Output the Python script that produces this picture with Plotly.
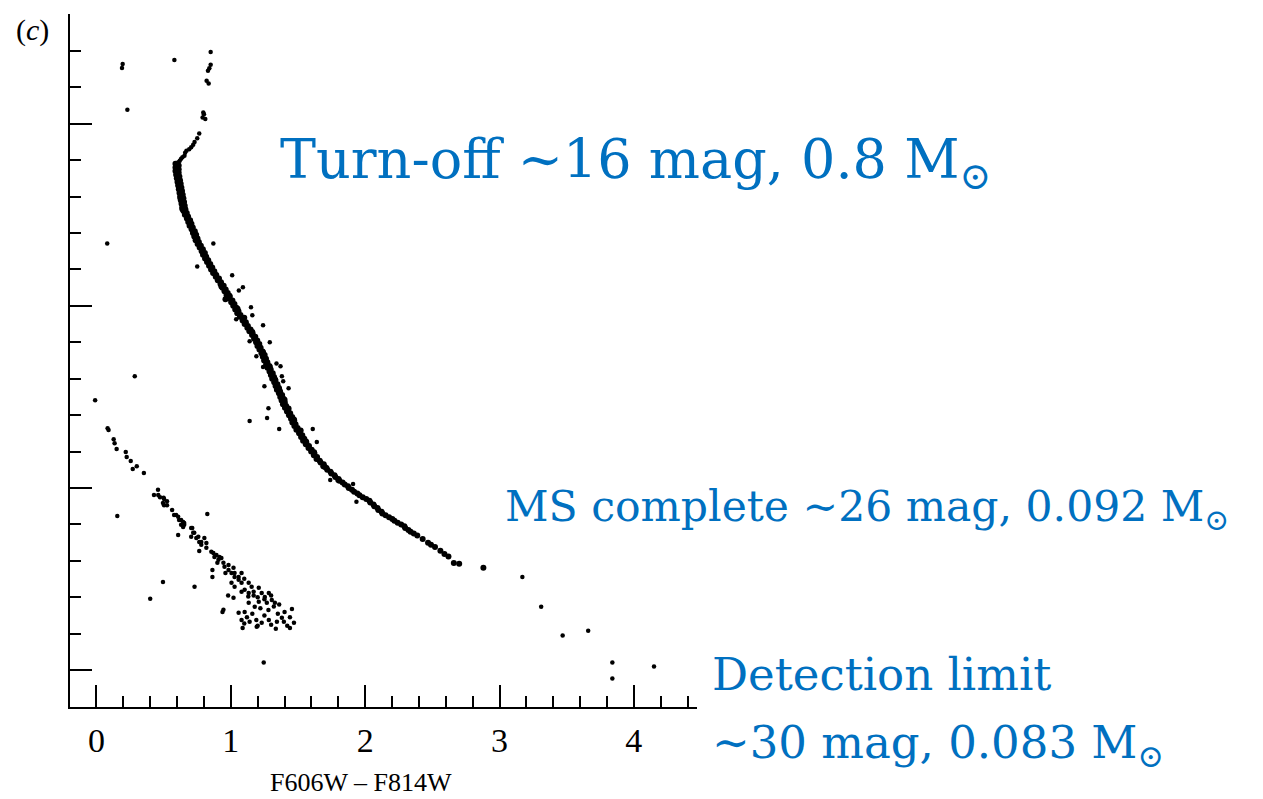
import plotly.graph_objects as go

# ---------------- data (F606W-F814W colour, F814W magnitude) ----------------
ms_core = [
    (0.588,16.10),(0.612,16.15),(0.588,16.20),(0.612,16.25),(0.588,16.30),(0.612,16.35),
    (0.593,16.40),(0.617,16.45),(0.598,16.50),(0.622,16.55),(0.603,16.60),(0.627,16.65),
    (0.608,16.70),(0.632,16.75),(0.613,16.80),(0.637,16.85),(0.618,16.90),(0.642,16.95),
    (0.623,17.00),(0.647,17.05),(0.628,17.10),(0.652,17.15),(0.633,17.20),(0.657,17.25),
    (0.638,17.30),(0.662,17.35),(0.648,17.40),(0.672,17.45),(0.658,17.50),(0.682,17.55),
    (0.673,17.60),(0.697,17.65),(0.683,17.70),(0.707,17.75),(0.693,17.80),(0.717,17.85),
    (0.708,17.90),(0.732,17.95),(0.718,18.00),(0.742,18.05),(0.728,18.10),(0.752,18.15),
    (0.738,18.20),(0.762,18.25),(0.753,18.30),(0.777,18.35),(0.768,18.40),(0.792,18.45),
    (0.783,18.50),(0.807,18.55),(0.793,18.60),(0.817,18.65),(0.808,18.70),(0.832,18.75),
    (0.823,18.80),(0.847,18.85),(0.838,18.90),(0.862,18.95),(0.853,19.00),(0.877,19.05),
    (0.868,19.10),(0.892,19.15),(0.888,19.20),(0.912,19.25),(0.903,19.30),(0.927,19.35),
    (0.923,19.40),(0.947,19.45),(0.938,19.50),(0.962,19.55),(0.953,19.60),(0.977,19.65),
    (0.968,19.70),(0.992,19.75),(0.988,19.80),(1.012,19.85),(1.003,19.90),(1.027,19.95),
    (1.018,20.00),(1.042,20.05),(1.033,20.10),(1.057,20.15),(1.048,20.20),(1.072,20.25),
    (1.068,20.30),(1.092,20.35),(1.088,20.40),(1.112,20.45),(1.103,20.50),(1.127,20.55),
    (1.123,20.60),(1.147,20.65),(1.138,20.70),(1.162,20.75),(1.158,20.80),(1.182,20.85),
    (1.173,20.90),(1.197,20.95),(1.188,21.00),(1.212,21.05),(1.198,21.10),(1.222,21.15),
    (1.213,21.20),(1.237,21.25),(1.228,21.30),(1.252,21.35),(1.238,21.40),(1.262,21.45),
    (1.248,21.50),(1.272,21.55),(1.263,21.60),(1.287,21.65),(1.273,21.70),(1.297,21.75),
    (1.288,21.80),(1.312,21.85),(1.298,21.90),(1.322,21.95),(1.308,22.00),(1.332,22.05),
    (1.323,22.10),(1.347,22.15),(1.333,22.20),(1.357,22.25),(1.343,22.30),(1.367,22.35),
    (1.358,22.40),(1.382,22.45),(1.368,22.50),(1.392,22.55),(1.378,22.60),(1.402,22.65),
    (1.388,22.70),(1.412,22.75),(1.403,22.80),(1.427,22.85),(1.418,22.90),(1.442,22.95),
    (1.433,23.00),(1.457,23.05),(1.448,23.10),(1.472,23.15),(1.458,23.20),(1.482,23.25),
    (1.473,23.30),(1.497,23.35),(1.488,23.40),(1.512,23.45),(1.508,23.50),(1.532,23.55),
    (1.523,23.60),(1.547,23.65),(1.538,23.70),(1.562,23.75),(1.558,23.80),(1.582,23.85),
    (1.578,23.90),(1.602,23.95),(1.598,24.00),(1.622,24.05),(1.618,24.10),(1.642,24.15),
    (1.638,24.20),(1.662,24.25),(1.668,24.30),(1.692,24.35),(1.688,24.40),(1.712,24.45),
    (1.718,24.50),(1.742,24.55),(1.748,24.60),(1.772,24.65),(1.778,24.70),(1.802,24.75),
    (1.808,24.80),(1.832,24.85),(1.848,24.90),(1.872,24.95),(1.878,25.00),(1.902,25.05),
    (1.918,25.10),(1.942,25.15),(1.958,25.20),(1.982,25.25),(2.008,25.30),(2.032,25.35),
    (2.038,25.40),(2.062,25.45),(2.068,25.50),(2.092,25.55),(2.098,25.60),(2.122,25.65),
    (2.128,25.70),(2.152,25.75),(2.178,25.80),(2.202,25.85),(2.218,25.90),(2.242,25.95),
    (2.268,26.00),(2.292,26.05),(2.298,26.10),(2.322,26.15),(2.338,26.20),(2.362,26.25),
    (2.388,26.30),(2.428,26.40),(2.468,26.50),(2.49,26.56),(2.52,26.62),(2.56,26.72),
    (2.59,26.81),(2.62,26.88),(2.66,27.06),(2.70,27.08),(2.88,27.19),
    # extra stars where the sequence is thickest
    (0.600,16.45),(0.615,16.75),(0.625,17.05),(0.640,17.35),(0.700,17.78),(0.760,18.28),
    (0.820,18.72),(0.880,19.12),(0.930,19.47),(0.960,19.82),(0.990,19.72),(1.050,20.08),
    (1.100,20.33),(1.160,20.72),(1.210,21.07),(1.240,21.28),(1.290,21.67),(1.330,22.02),
    (1.360,22.28),(1.400,22.58),(1.430,22.82),(1.470,23.12),(1.520,23.42),(1.560,23.72),
    (1.620,24.02),(1.700,24.42),(1.800,24.78),
]

subgiant = [
    (0.85,13.03),(0.85,13.38),(0.84,13.48),(0.83,13.55),(0.82,13.82),(0.835,13.90),
    (0.795,14.69),(0.80,14.74),(0.79,14.83),(0.81,14.87),(0.765,15.27),(0.75,15.40),
    (0.73,15.50),(0.72,15.58),(0.705,15.65),(0.69,15.70),(0.67,15.74),(0.66,15.80),
    (0.655,15.88),(0.64,15.92),(0.63,15.96),(0.62,16.02),(0.61,16.06),(0.60,16.08),
]

ms_scatter = [
    (0.87,18.29),(0.75,18.92),(1.01,19.16),(1.09,19.49),(1.06,19.58),(1.15,20.04),
    (1.16,20.26),(1.04,20.37),(1.24,20.53),(1.29,21.00),(1.14,20.97),(1.19,21.38),
    (1.34,21.58),(1.37,21.66),(1.24,21.68),(1.38,21.93),(1.39,22.07),(1.43,22.26),
    (1.25,22.21),(1.28,22.81),(1.27,23.08),(1.14,23.16),(1.36,23.38),(1.61,23.38),
    (1.64,23.74),(1.74,24.78),(1.91,24.89),(1.935,25.38),(3.17,27.44),(3.31,28.26),
    (3.47,29.05),(3.66,28.92),(3.84,29.79),(3.84,30.23),(4.15,29.90),
]

field = [
    (0.195,13.36),(0.19,13.47),(0.58,13.25),(0.23,14.62),(0.08,18.29),(0.285,21.93),
    (-0.01,22.59),(0.155,25.77),(1.245,29.79),(0.40,28.04),(0.495,27.58),(0.73,27.71),
    (0.825,25.71),
]

white_dwarfs = [
    (0.083,23.36),(0.09,23.41),(0.128,23.66),(0.135,23.77),(0.15,23.93),(0.218,24.01),
    (0.225,24.15),(0.255,24.26),(0.30,24.40),(0.27,24.48),(0.353,24.59),(0.458,25.05),
    (0.428,25.19),(0.46,25.19),(0.473,25.25),(0.50,25.27),(0.503,25.30),(0.525,25.36),
    (0.495,25.41),(0.503,25.47),(0.525,25.47),(0.563,25.60),(0.578,25.74),(0.593,25.74),
    (0.608,25.79),(0.615,25.88),(0.63,25.88),(0.645,25.93),(0.653,25.96),(0.653,26.01),
    (0.63,26.01),(0.645,26.07),(0.705,26.10),(0.713,26.10),(0.72,26.23),(0.728,26.23),
    (0.608,26.29),(0.705,26.34),(0.758,26.34),(0.743,26.37),(0.803,26.37),(0.78,26.48),
    (0.765,26.48),(0.818,26.51),(0.78,26.56),(0.818,26.64),(0.765,26.73),(0.855,26.75),
    (0.87,26.78),(0.893,26.84),(0.878,26.89),(0.915,26.89),(0.93,26.92),(0.908,26.97),
    (0.945,27.05),(0.90,27.05),(0.983,27.11),(0.953,27.16),(1.02,27.19),(0.983,27.25),
    (0.863,27.25),(1.028,27.33),(1.08,27.33),(0.96,27.33),(1.005,27.33),(1.058,27.44),
    (1.028,27.44),(0.863,27.44),(1.10,27.49),(1.058,27.52),(1.133,27.60),(1.08,27.60),
    (1.005,27.60),(1.155,27.71),(1.028,27.71),(1.208,27.74),(1.103,27.79),(1.17,27.85),
    (1.23,27.88),(1.283,27.88),(1.133,27.88),(1.253,27.99),(1.02,28.01),(1.305,28.07),
    (1.208,28.12),(1.328,28.15),(1.268,28.15),(1.133,28.15),(1.178,28.26),(1.455,28.32),
    (0.945,28.34),(1.103,28.40),(0.938,28.40),(1.058,28.42),(1.38,28.56),(1.08,28.62),
    (1.283,28.62),(1.14,28.67),(1.343,28.67),(1.395,28.67),(1.23,28.70),(1.47,28.70),
    (1.193,28.81),(1.44,28.84),(1.335,28.86),(1.088,28.84),
    (1.17,27.95),(1.20,28.00),(1.25,28.05),(1.30,27.95),(1.32,28.25),(1.28,28.35),
    (1.22,28.30),(1.16,28.45),(1.25,28.50),(1.35,28.45),(1.40,28.40),(1.12,28.55),
    (1.19,28.62),(1.30,28.75),(1.42,28.78),(1.36,28.20),(1.44,28.55),(1.20,28.78),
    (1.10,28.72),(0.98,27.95),(1.08,27.85),(1.13,27.98),
]

x_tick_values = [0, 1, 2, 3, 4]
x_tick_labels = ["0", "1", "2", "3", "4"]
x_title = "F606W – F814W"

# ---------------- figure ----------------
fig = go.Figure()
groups = [(ms_core, 6), (subgiant, 4.5), (ms_scatter, 4.5), (field, 4.5), (white_dwarfs, 4.5)]
for group, msize in groups:
    fig.add_trace(go.Scatter(
        x=[p[0] for p in group], y=[p[1] for p in group], mode="markers",
        marker=dict(color="black", size=msize, line=dict(width=0)),
        hoverinfo="skip", showlegend=False,
    ))

serif = "Liberation Serif"
blue = "#0070C0"
ann_font = "DejaVu Serif"

fig.update_layout(
    width=1263, height=799,
    margin=dict(l=70, r=566, t=14, b=92),
    paper_bgcolor="white", plot_bgcolor="white",
    showlegend=False,
    xaxis=dict(
        range=[-0.197, 4.47], showline=True, linecolor="black", linewidth=2,
        ticks="inside", ticklen=22, tickwidth=2, tickcolor="black",
        tickvals=x_tick_values, ticktext=x_tick_labels,
        showgrid=False, zeroline=False,
        tickfont=dict(family=serif, size=34, color="black"),
        ticklabelstandoff=2,
        minor=dict(ticks="inside", ticklen=11, tickwidth=2, tickcolor="black",
                   dtick=0.2, tick0=0, showgrid=False),
    ),
    yaxis=dict(
        range=[31.01, 11.99], showline=True, linecolor="black", linewidth=2,
        ticks="inside", ticklen=22, tickwidth=2, tickcolor="black",
        dtick=5, tick0=0, showticklabels=False,
        showgrid=False, zeroline=False,
        minor=dict(ticks="inside", ticklen=11, tickwidth=2, tickcolor="black",
                   dtick=1, tick0=0, showgrid=False),
    ),
)

def px_x(px):
    return (px - 70) / 627.0

def px_y(py):
    return (707 - py) / 693.0

annotations = [
    dict(text="(<i>c</i>)", x=px_x(32), y=px_y(30), font=dict(family=serif, size=30, color="black")),
    dict(text=x_title, x=px_x(361), y=px_y(783), font=dict(family=serif, size=26, color="black")),
    dict(text="Turn-off ∼16 mag, 0.8 M<sub>⊙</sub>", x=px_x(278), y=px_y(163),
         xanchor="left", font=dict(family=ann_font, size=54, color=blue)),
    dict(text="MS complete ∼26 mag, 0.092 M<sub>⊙</sub>", x=px_x(503), y=px_y(509),
         xanchor="left", font=dict(family=ann_font, size=42.5, color=blue)),
    dict(text="Detection limit", x=px_x(710), y=px_y(674),
         xanchor="left", font=dict(family=ann_font, size=45, color=blue)),
    dict(text="∼30 mag, 0.083 M<sub>⊙</sub>", x=px_x(710), y=px_y(745),
         xanchor="left", font=dict(family=ann_font, size=45, color=blue)),
]
for a in annotations:
    a.setdefault("xanchor", "center")
    fig.add_annotation(xref="paper", yref="paper", showarrow=False, yanchor="middle", **a)

fig.write_html("out.html")
